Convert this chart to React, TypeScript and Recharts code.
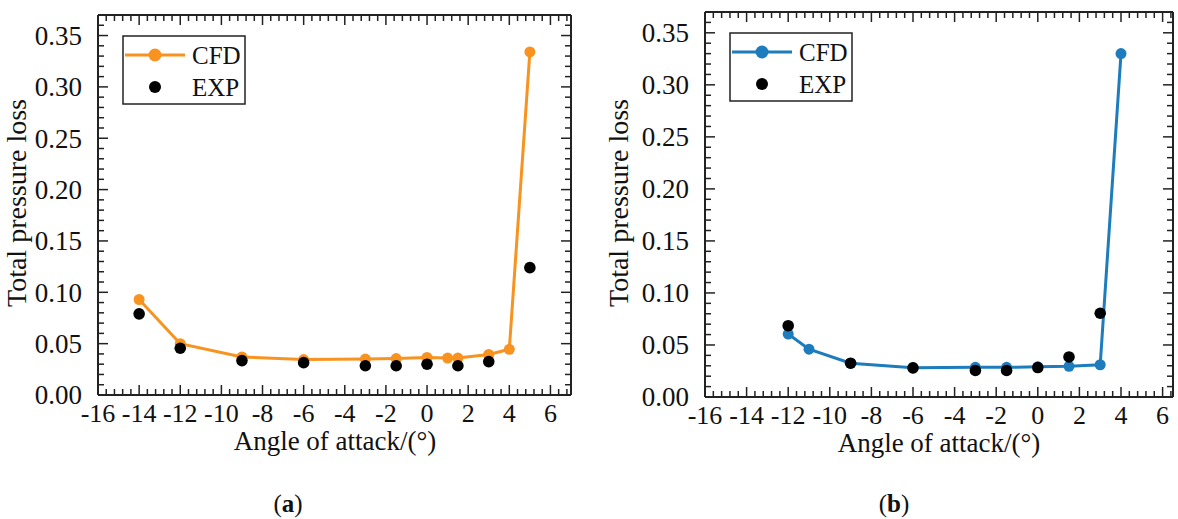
import React from 'react';
import { ComposedChart, Line, Scatter, XAxis, YAxis } from 'recharts';

const FONT = '"Liberation Serif", "Times New Roman", serif';
const ORANGE = '#F7931E';
const BLUE = '#1D7DBC';

// ---- Panel (a) data ----
const cfdAx = [-14, -12, -9, -6, -3, -1.5, 0, 1, 1.5, 3, 4, 5];
const cfdAy = [0.093, 0.05, 0.037, 0.0345, 0.035, 0.0355, 0.0365, 0.036, 0.036, 0.0395, 0.0445, 0.334];
const expAx = [-14, -12, -9, -6, -3, -1.5, 0, 1.5, 3, 5];
const expAy = [0.079, 0.0455, 0.0335, 0.0315, 0.0285, 0.0285, 0.03, 0.0285, 0.0325, 0.124];

// ---- Panel (b) data ----
const cfdBx = [-12, -11, -9, -6, -3, -1.5, 0, 1.5, 3, 4];
const cfdBy = [0.0605, 0.046, 0.0325, 0.028, 0.0285, 0.0285, 0.029, 0.0295, 0.031, 0.33];
const expBx = [-12, -9, -6, -3, -1.5, 0, 1.5, 3];
const expBy = [0.0685, 0.0325, 0.028, 0.0255, 0.0255, 0.0283, 0.0385, 0.0805];

// ---- ticks ----
const xMajor = [-16, -14, -12, -10, -8, -6, -4, -2, 0, 2, 4, 6];
const yMajor = [0, 0.05, 0.1, 0.15, 0.2, 0.25, 0.3, 0.35];
const xDomainA: [number, number] = [-16, 7];
const xDomainB: [number, number] = [-16, 6.5];
const yDomain: [number, number] = [0, 0.37];
const X_MINOR_STEP = 0.4;
const Y_MINOR_STEP = 0.01;

const zip = (xs: number[], ys: number[]) => xs.map((x, i) => ({ x, y: ys[i] }));

const steps = (lo: number, hi: number, step: number) => {
  const out: number[] = [];
  const n = Math.floor((hi - lo) / step + 1e-6);
  for (let i = 0; i <= n; i++) out.push(Math.round((lo + i * step) * 1000) / 1000);
  return out;
};

const isMajor = (v: number, majors: number[]) => majors.some((m) => Math.abs(m - v) < 1e-6);

type Side = 'bottom' | 'top' | 'left' | 'right';

const makeTick = (side: Side, majors: number[], fmt: (v: number) => string) => (props: any) => {
  const { x, y, payload } = props;
  const v = payload.value as number;
  const major = isMajor(v, majors);
  const len = major ? 10 : 6;
  let line;
  let label = null;
  if (side === 'bottom') {
    line = <line x1={x} y1={y} x2={x} y2={y - len} stroke="#222" strokeWidth={1.5} />;
    if (major)
      label = (
        <text x={x} y={y + 27} textAnchor="middle" fontFamily={FONT} fontSize={26} fill="#111">
          {fmt(v)}
        </text>
      );
  } else if (side === 'top') {
    line = <line x1={x} y1={y} x2={x} y2={y + len} stroke="#222" strokeWidth={1.5} />;
  } else if (side === 'left') {
    line = <line x1={x} y1={y} x2={x + len} y2={y} stroke="#222" strokeWidth={1.5} />;
    if (major)
      label = (
        <text x={x - 16} y={y} dy="0.35em" textAnchor="end" fontFamily={FONT} fontSize={27} fill="#111">
          {fmt(v)}
        </text>
      );
  } else {
    line = <line x1={x} y1={y} x2={x - len} y2={y} stroke="#222" strokeWidth={1.5} />;
  }
  return (
    <g>
      {line}
      {label}
    </g>
  );
};

const fmtX = (v: number) => String(v);
const fmtY = (v: number) => v.toFixed(2);

const axisLine = { stroke: '#222', strokeWidth: 2 };

interface PanelProps {
  cfd: { x: number; y: number }[];
  exp: { x: number; y: number }[];
  color: string;
  xDomain: [number, number];
  width: number;
  height: number;
  margin: { top: number; left: number; right: number; bottom: number };
  left: number;
}

const Panel = ({ cfd, exp, color, xDomain, width, height, margin, left }: PanelProps) => {
  const xTicks = steps(xDomain[0], xDomain[1], X_MINOR_STEP);
  const yTicks = steps(yDomain[0], yDomain[1], Y_MINOR_STEP);
  // axes are 1px thick in layout; compensate in margins
  const m = {
    top: margin.top - 1,
    bottom: margin.bottom - 1,
    left: margin.left - 1,
    right: margin.right - 1,
  };
  return (
    <div style={{ position: 'absolute', left, top: 0 }}>
      <ComposedChart width={width} height={height} margin={m} style={{ overflow: 'visible' }}>
        <XAxis
          xAxisId="b"
          dataKey="x"
          type="number"
          orientation="bottom"
          domain={xDomain}
          allowDataOverflow
          ticks={xTicks}
          interval={0}
          height={1}
          tickSize={0}
          tickMargin={0}
          tickLine={false}
          axisLine={axisLine}
          tick={makeTick('bottom', xMajor, fmtX)}
        />
        <XAxis
          xAxisId="t"
          dataKey="x"
          type="number"
          orientation="top"
          domain={xDomain}
          allowDataOverflow
          ticks={xTicks}
          interval={0}
          height={1}
          tickSize={0}
          tickMargin={0}
          tickLine={false}
          axisLine={axisLine}
          tick={makeTick('top', xMajor, fmtX)}
        />
        <YAxis
          yAxisId="l"
          dataKey="y"
          type="number"
          orientation="left"
          domain={yDomain}
          allowDataOverflow
          ticks={yTicks}
          interval={0}
          width={1}
          tickSize={0}
          tickMargin={0}
          tickLine={false}
          axisLine={axisLine}
          tick={makeTick('left', yMajor, fmtY)}
        />
        <YAxis
          yAxisId="r"
          dataKey="y"
          type="number"
          orientation="right"
          domain={yDomain}
          allowDataOverflow
          ticks={yTicks}
          interval={0}
          width={1}
          tickSize={0}
          tickMargin={0}
          tickLine={false}
          axisLine={axisLine}
          tick={makeTick('right', yMajor, fmtY)}
        />
        <Line
          data={cfd}
          dataKey="y"
          xAxisId="b"
          yAxisId="l"
          type="linear"
          stroke={color}
          strokeWidth={3}
          dot={{ r: 5.5, fill: color, stroke: color, strokeWidth: 0 }}
          activeDot={false}
          isAnimationActive={false}
        />
        <Scatter
          data={exp}
          dataKey="y"
          xAxisId="b"
          yAxisId="l"
          fill="#000"
          shape={(p: any) => <circle cx={p.cx} cy={p.cy} r={5.8} fill="#000" />}
          isAnimationActive={false}
        />
      </ComposedChart>
    </div>
  );
};

const LegendBox = ({ x, y, color }: { x: number; y: number; color: string }) => (
  <g>
    <rect x={x} y={y} width={122} height={68} fill="#fff" stroke="#222" strokeWidth={1.5} />
    <line x1={x + 2} y1={y + 19} x2={x + 62} y2={y + 19} stroke={color} strokeWidth={3} />
    <circle cx={x + 32} cy={y + 19} r={6.5} fill={color} />
    <text x={x + 69} y={y + 19} dy="0.35em" fontFamily={FONT} fontSize={25} fill="#111">
      CFD
    </text>
    <circle cx={x + 32} cy={y + 51} r={6} fill="#000" />
    <text x={x + 69} y={y + 51} dy="0.35em" fontFamily={FONT} fontSize={25} fill="#111">
      EXP
    </text>
  </g>
);

export default function App() {
  const cfdA = zip(cfdAx, cfdAy);
  const expA = zip(expAx, expAy);
  const cfdB = zip(cfdBx, cfdBy);
  const expB = zip(expBx, expBy);
  return (
    <div style={{ position: 'absolute', left: 0, top: 0, width: 1178, height: 519, background: '#fff' }}>
      <Panel
        cfd={cfdA}
        exp={expA}
        color={ORANGE}
        xDomain={xDomainA}
        width={600}
        height={470}
        margin={{ top: 15, left: 98, right: 29, bottom: 75 }}
        left={0}
      />
      <Panel
        cfd={cfdB}
        exp={expB}
        color={BLUE}
        xDomain={xDomainB}
        width={578}
        height={470}
        margin={{ top: 12, left: 105, right: 5, bottom: 73 }}
        left={600}
      />
      <svg
        width={1178}
        height={519}
        style={{ position: 'absolute', left: 0, top: 0, pointerEvents: 'none' }}
      >
        <LegendBox x={123} y={36} color={ORANGE} />
        <LegendBox x={730} y={33} color={BLUE} />
        <text
          transform="translate(26,203) rotate(-90)"
          textAnchor="middle"
          fontFamily={FONT}
          fontSize={28}
          fill="#111"
        >
          Total pressure loss
        </text>
        <text
          transform="translate(628,203) rotate(-90)"
          textAnchor="middle"
          fontFamily={FONT}
          fontSize={28}
          fill="#111"
        >
          Total pressure loss
        </text>
        <text x={335} y={450} textAnchor="middle" fontFamily={FONT} fontSize={27} fill="#111">
          Angle of attack/(°)
        </text>
        <text x={939} y={452} textAnchor="middle" fontFamily={FONT} fontSize={27} fill="#111">
          Angle of attack/(°)
        </text>
        <text x={288} y={512} textAnchor="middle" fontFamily={FONT} fontSize={25} fill="#111">
          (<tspan fontWeight="bold">a</tspan>)
        </text>
        <text x={894} y={512} textAnchor="middle" fontFamily={FONT} fontSize={25} fill="#111">
          (<tspan fontWeight="bold">b</tspan>)
        </text>
      </svg>
    </div>
  );
}
